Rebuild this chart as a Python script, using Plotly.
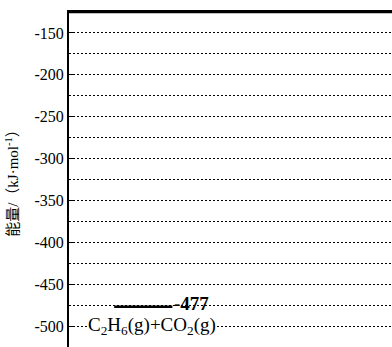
import plotly.graph_objects as go

# Data
level_names = ["C<sub>2</sub>H<sub>6</sub>(g)+CO<sub>2</sub>(g)"]
level_values = [-477]
level_x_start = [1.4]
level_x_end = [3.2]
name_x = [2.57]
name_y = [-500]
y_ticks = [-150, -200, -250, -300, -350, -400, -450, -500]
y_tick_labels = ["-150", "-200", "-250", "-300", "-350", "-400", "-450", "-500"]

fig = go.Figure()
for name, v, x0, x1, nx, ny in zip(level_names, level_values, level_x_start,
                                   level_x_end, name_x, name_y):
    fig.add_trace(go.Scatter(x=[x0, x1], y=[v, v], mode="lines",
                             line=dict(color="black", width=2.5), showlegend=False,
                             hoverinfo="skip"))
    fig.add_annotation(x=x1, y=v, text="<b>%d</b>" % v, showarrow=False,
                       xanchor="left", yanchor="middle", yshift=3, xshift=0,
                       font=dict(family="Liberation Serif", size=19, color="black"))
    fig.add_annotation(x=nx, y=ny, text=name, showarrow=False,
                       xanchor="center", yanchor="middle", bgcolor="white",
                       borderpad=0,
                       font=dict(family="Liberation Serif", size=19, color="black"))

# top frame line
fig.add_shape(type="line", xref="paper", yref="paper", x0=0, x1=1, y0=1, y1=1,
              line=dict(color="black", width=2.5), layer="above")

fig.update_layout(
    width=392, height=347,
    margin=dict(l=69, r=0, t=12, b=0),
    plot_bgcolor="white", paper_bgcolor="white",
    font=dict(family="Liberation Serif, Noto Sans CJK SC", color="black"),
    xaxis=dict(range=[0, 10], showgrid=False, zeroline=False, showticklabels=False,
               ticks="", showline=True, linecolor="black", linewidth=2, side="top",
               automargin=False),
    yaxis=dict(range=[-525, -125], tickvals=y_ticks, ticktext=y_tick_labels,
               showgrid=True, automargin=False,
               gridcolor="black", gridwidth=1, griddash="2px,2px",
               zeroline=False, showline=True, linecolor="black", linewidth=2,
               ticks="inside", ticklen=5, tickcolor="black",
               tickfont=dict(family="Liberation Serif", size=16, color="black"),
               title=dict(text="能量/（kJ·mol<sup>-1</sup>）", standoff=12,
                          font=dict(family="Liberation Serif, Noto Sans CJK SC", size=15)),
               minor=dict(dtick=25, tick0=-500, showgrid=True, gridcolor="black",
                          gridwidth=1, griddash="2px,2px")),
)

fig.write_html("out.html", config={"displayModeBar": False},
               post_script="document.body.style.margin='0';document.body.style.overflow='hidden';")
